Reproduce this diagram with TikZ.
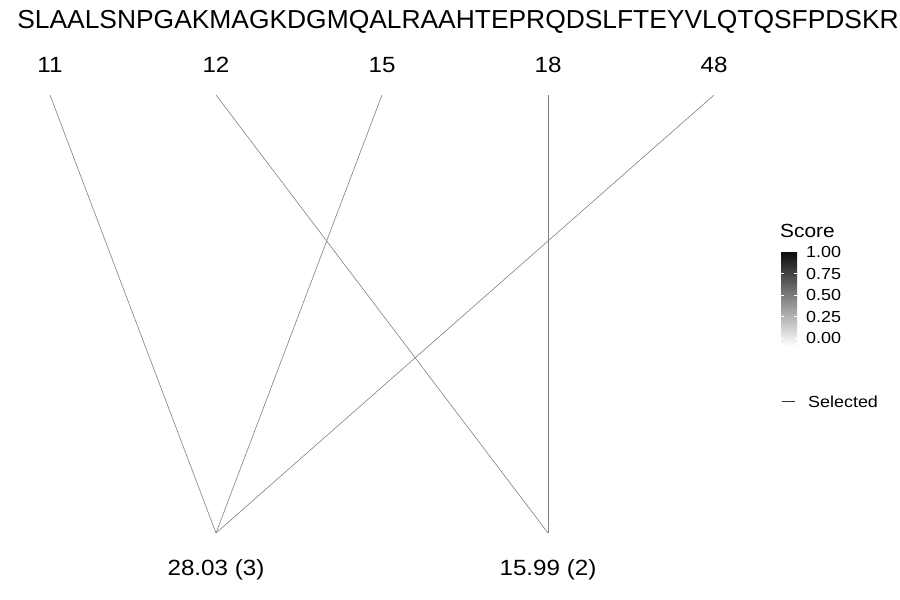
\documentclass[tikz,border=0pt]{standalone}
\usepackage{fontspec}
\setmainfont{Liberation Sans}
\usetikzlibrary{positioning}
\newcommand{\wide}[2]{\scalebox{#1}[1]{#2}}
\tikzset{
  link/.style={draw=black!50, line width=0.6pt},
  toplab/.style={font=\fontsize{22}{24}\selectfont, inner sep=0pt},
  botlab/.style={font=\fontsize{22}{24}\selectfont, inner sep=0pt},
  leglab/.style={font=\fontsize{16}{18}\selectfont, inner sep=0pt, anchor=west},
  pt/.style={inner sep=0pt, minimum size=0pt},
}
\begin{document}
\begin{tikzpicture}[x=1pt,y=-1pt]
\useasboundingbox (0,0) rectangle (900,600);
\node[inner sep=0pt, font=\fontsize{26}{28}\selectfont] (title) at (458,22) {\wide{1.015}{SLAALSNPGAKMAGKDGMQALRAAHTEPRQDSLFTEYVLQTQSFPDSKR}};
% top labels
\node[toplab] (l11) at (50,65) {\wide{1.1}{11}};
\node[toplab] (l12) at (216,65) {\wide{1.1}{12}};
\node[toplab] (l15) at (382,65) {\wide{1.1}{15}};
\node[toplab] (l18) at (548,65) {\wide{1.1}{18}};
\node[toplab] (l48) at (714,65) {\wide{1.1}{48}};
% top points
\node[pt] (t11) at (50,95) {};
\node[pt] (t12) at (216,95) {};
\node[pt] (t15) at (382,95) {};
\node[pt] (t18) at (548,95) {};
\node[pt] (t48) at (714,95) {};
% bottom points
\node[pt] (b1) at (216,533) {};
\node[pt] (b2) at (548,533) {};
\node[botlab] (m1) at (216,570) {\wide{1.1}{28.03 (3)}};
\node[botlab] (m2) at (548,570) {\wide{1.1}{15.99 (2)}};
% links
\draw[link] (t11) -- (b1);
\draw[link] (t15) -- (b1);
\draw[link] (t48) -- (b1);
\draw[link] (t12) -- (b2);
\draw[link] (t18) -- (b2);
% legend
\node[inner sep=0pt, anchor=west, font=\fontsize{19}{21}\selectfont] (score) at (780,231) {\wide{1.1}{Score}};
\shade[top color=black!95, bottom color=white] (781,252) rectangle (797,346);
\foreach \yy in {273.5,295,316.5,338}{
  \draw[white, line width=0.5pt] (781,\yy) -- (784,\yy);
  \draw[white, line width=0.5pt] (794,\yy) -- (797,\yy);
}
\node[leglab] (v100) at (806,252) {\wide{1.12}{1.00}};
\node[leglab] (v075) at (806,273.5) {\wide{1.12}{0.75}};
\node[leglab] (v050) at (806,295) {\wide{1.12}{0.50}};
\node[leglab] (v025) at (806,316.5) {\wide{1.12}{0.25}};
\node[leglab] (v000) at (806,338) {\wide{1.12}{0.00}};
\coordinate (s1) at (782,401);
\coordinate (s2) at (795,401);
\draw[draw=black!80, line width=0.6pt] (s1) -- (s2);
\node[leglab] (sel) at (808,402) {\wide{1.12}{Selected}};
\end{tikzpicture}
\end{document}
